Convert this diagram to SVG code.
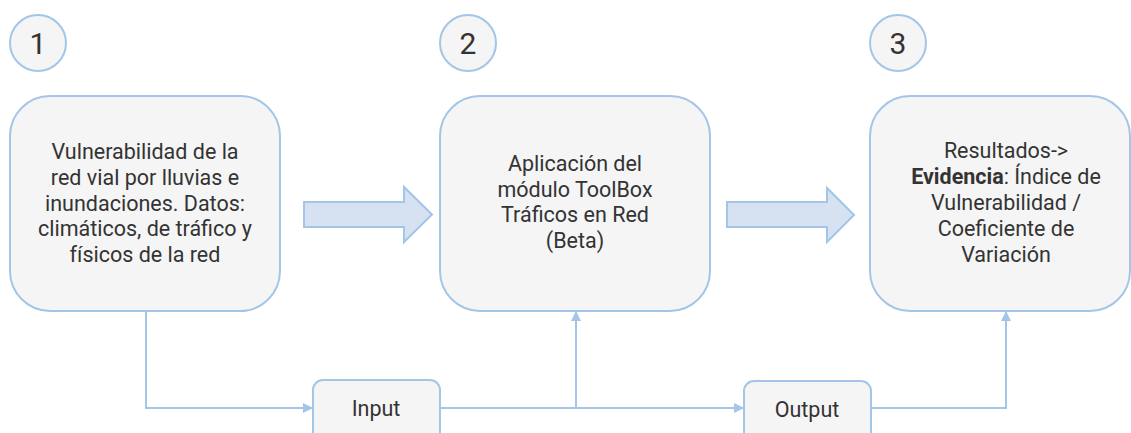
<svg xmlns="http://www.w3.org/2000/svg" width="1131" height="433" viewBox="0 0 1131 433">
<style>
.node{fill:#f5f5f5;stroke:#a3c6e8;stroke-width:2}
.t{font-family:Roboto,"Liberation Sans",sans-serif;font-size:21.5px;fill:#333;text-anchor:middle}
.num{font-family:Roboto,"Liberation Sans",sans-serif;font-size:30px;fill:#333;text-anchor:middle}
.big{fill:#d6e1f2;stroke:#a3c6e8;stroke-width:2}
.conn{fill:none;stroke:#a3c6e8;stroke-width:2}
</style>
<defs>
<marker id="ah" markerWidth="10" markerHeight="10" refX="9" refY="5" orient="auto" markerUnits="userSpaceOnUse" viewBox="0 0 10 10">
<path d="M0,0 L10,5 L0,10 z" fill="#a3c6e8"/>
</marker>
</defs>
<rect width="1131" height="433" fill="#fff"/>
<g id="num1"><circle class="node" cx="38" cy="43" r="28"/><text class="num" x="38" y="54">1</text></g>
<g id="num2"><circle class="node" cx="468" cy="43" r="28"/><text class="num" x="468" y="54">2</text></g>
<g id="num3"><circle class="node" cx="898" cy="43" r="28"/><text class="num" x="898" y="54">3</text></g>
<g id="box1"><rect class="node" x="10" y="96" width="270" height="215" rx="40"/>
<text class="t" x="145"><tspan x="145" y="159">Vulnerabilidad de la</tspan><tspan x="145" y="185">red vial por lluvias e</tspan><tspan x="145" y="211">inundaciones. Datos:</tspan><tspan x="145" y="236">climáticos, de tráfico y</tspan><tspan x="145" y="262">físicos de la red</tspan></text></g>
<g id="box2"><rect class="node" x="440" y="96" width="270" height="215" rx="40"/>
<text class="t" x="575"><tspan x="575" y="171">Aplicación del</tspan><tspan x="575" y="197">módulo ToolBox</tspan><tspan x="575" y="222">Tráficos en Red</tspan><tspan x="575" y="248">(Beta)</tspan></text></g>
<g id="box3"><rect class="node" x="870" y="96" width="260" height="215" rx="40"/>
<text class="t" x="1006"><tspan x="1006" y="158">Resultados-&gt;</tspan><tspan x="1006" y="184"><tspan font-weight="bold">Evidencia</tspan>: Índice de</tspan><tspan x="1006" y="210">Vulnerabilidad /</tspan><tspan x="1006" y="236">Coeficiente de</tspan><tspan x="1006" y="262">Variación</tspan></text></g>
<g id="arrow1"><path class="big" d="M304,202 H404 V187 L432,214.5 L404,242 V227 H304 Z"/></g>
<g id="arrow2"><path class="big" d="M727,202 H827 V188 L854,215 L827,242 V227 H727 Z"/></g>
<g id="input"><rect class="node" x="313" y="380" width="127" height="62" rx="10"/><text class="t" x="376" y="416">Input</text></g>
<g id="output"><rect class="node" x="744" y="381" width="127" height="62" rx="10"/><text class="t" x="807" y="417">Output</text></g>
<g id="connectors">
<path class="conn" d="M146,311 V408 H312" marker-end="url(#ah)"/>
<path class="conn" d="M440,408 H743" marker-end="url(#ah)"/>
<path class="conn" d="M576,408 V312" marker-end="url(#ah)"/>
<path class="conn" d="M871,408 H1006 V312" marker-end="url(#ah)"/>
</g>
</svg>
